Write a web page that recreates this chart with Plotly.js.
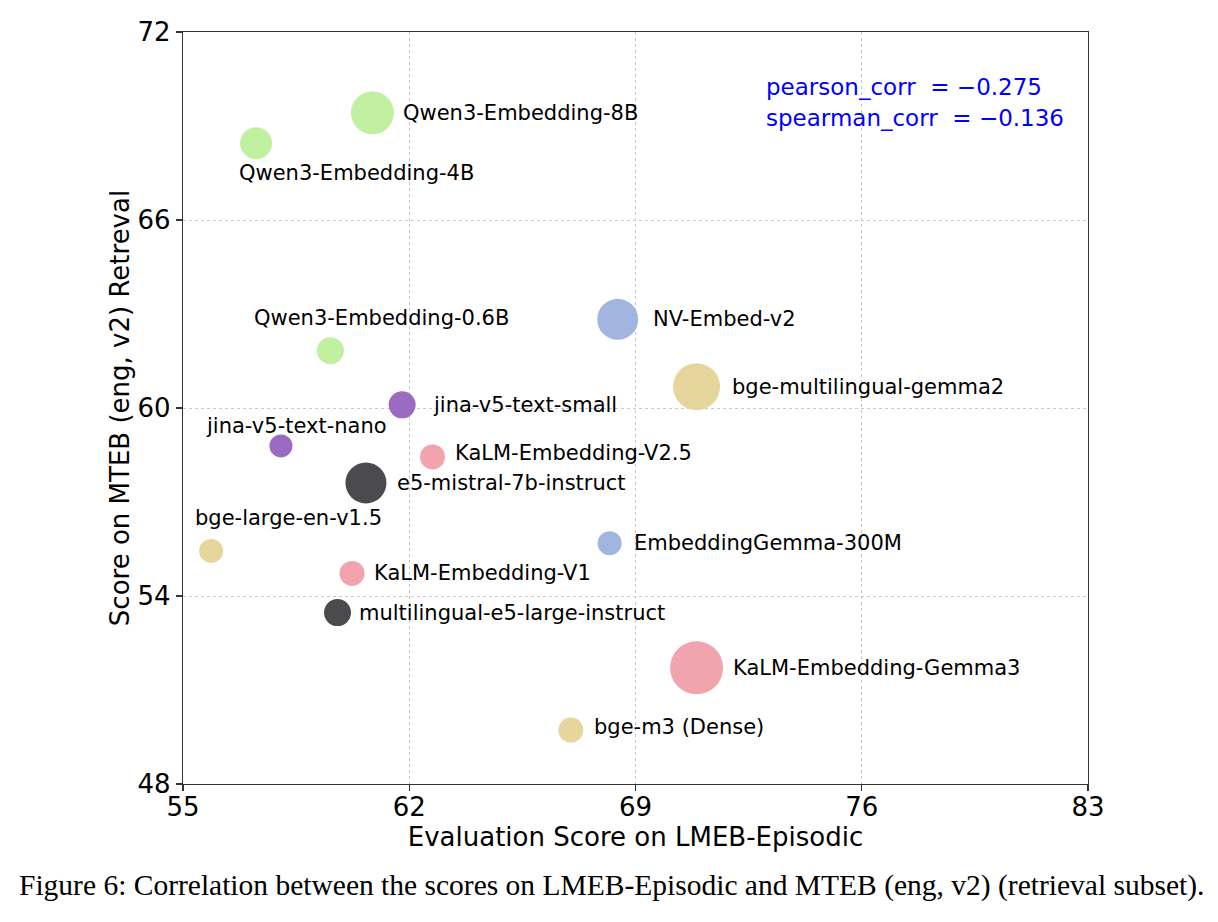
<!DOCTYPE html>
<html>
<head>
<meta charset="utf-8">
<script src="https://cdn.plot.ly/plotly-3.0.1.min.js"></script>
<style>html,body{margin:0;padding:0;background:#fff;}#chart{width:1218px;height:922px;}</style>
</head>
<body>
<div id="chart"></div>
<script>
// ---- data ----
const models = [
  "Qwen3-Embedding-8B", "Qwen3-Embedding-4B", "Qwen3-Embedding-0.6B",
  "NV-Embed-v2", "bge-multilingual-gemma2", "jina-v5-text-small",
  "jina-v5-text-nano", "KaLM-Embedding-V2.5", "e5-mistral-7b-instruct",
  "bge-large-en-v1.5", "EmbeddingGemma-300M", "KaLM-Embedding-V1",
  "multilingual-e5-large-instruct", "KaLM-Embedding-Gemma3", "bge-m3 (Dense)"
];
const lmebEpisodic = [60.86, 57.26, 59.56, 68.45, 70.89, 61.78, 58.03, 62.72, 60.66, 55.87, 68.20, 60.23, 59.78, 70.89, 67.00];
const mtebRetrieval = [69.42, 68.45, 61.83, 62.83, 60.68, 60.10, 58.79, 58.44, 57.61, 55.44, 55.68, 54.72, 53.47, 51.71, 49.72];
const families = ["qwen", "qwen", "qwen", "nv", "bge", "jina", "jina", "kalm", "e5", "bge", "gemma", "kalm", "e5", "kalm", "bge"];
const xTicks = [55, 62, 69, 76, 83];
const yTicks = [48, 54, 60, 66, 72];
const pearsonCorr = -0.275;
const spearmanCorr = -0.136;

// ---- style / placement ----
const familyColor = {
  qwen: "#c1f0a1", nv: "#a1b5e0", gemma: "#a1b5e0", bge: "#e6d69c",
  jina: "#9a6bc0", kalm: "#f2a4ae", e5: "#4b4b4d"
};
const markerDiameter = [43, 32, 27, 41, 47, 27, 23, 25, 41, 24, 24, 25, 27, 53, 25];
// label offsets in pixels (dx right, dy down) relative to marker centre; left-anchored
const labelOffset = [
  [29, 0], [-19, 30], [-78, -33], [33, 0], [33, 0], [29, 0],
  [-77, -20], [20, -4], [29, 0], [-18, -33], [22, 0], [20, 0],
  [19, 0], [34, 0], [21, -3]
];

const trace = {
  type: "scatter",
  mode: "markers",
  x: lmebEpisodic,
  y: mtebRetrieval,
  text: models,
  hoverinfo: "text",
  marker: {
    size: markerDiameter,
    sizemode: "diameter",
    color: families.map(f => familyColor[f]),
    line: {width: 0},
    opacity: 1
  },
  showlegend: false
};

const annotations = models.map((m, i) => ({
  x: lmebEpisodic[i], y: mtebRetrieval[i], xref: "x", yref: "y",
  text: m, showarrow: false, xanchor: "left", yanchor: "middle",
  xshift: labelOffset[i][0], yshift: -labelOffset[i][1],
  font: {family: "DejaVu Sans", size: 21, color: "#000"}
}));

const fmt = v => (v < 0 ? "\u2212" : "") + Math.abs(v).toFixed(3);
annotations.push({
  xref: "paper", yref: "paper", x: 0.642, y: 0.927, xanchor: "left", yanchor: "middle",
  text: "pearson_corr  = " + fmt(pearsonCorr), showarrow: false,
  font: {family: "DejaVu Sans", size: 23, color: "#0000ff"}
});
annotations.push({
  xref: "paper", yref: "paper", x: 0.642, y: 0.886, xanchor: "left", yanchor: "middle",
  text: "spearman_corr  = " + fmt(spearmanCorr), showarrow: false,
  font: {family: "DejaVu Sans", size: 23, color: "#0000ff"}
});
annotations.push({
  xref: "paper", yref: "paper", x: 0.473, y: -0.135, xanchor: "center", yanchor: "middle",
  text: "Figure 6: Correlation between the scores on LMEB-Episodic and MTEB (eng, v2) (retrieval subset).",
  showarrow: false,
  font: {family: "Liberation Serif", size: 29.5, color: "#000"}
});

const axisCommon = {
  showline: true, mirror: true, linecolor: "#333", linewidth: 1.2,
  ticks: "outside", ticklen: 6, tickwidth: 1.2, tickcolor: "#333",
  showgrid: true, gridcolor: "#c8c8c8", gridwidth: 1, griddash: "dot",
  zeroline: false,
  tickfont: {family: "DejaVu Sans", size: 26, color: "#000"}
};

const layout = {
  width: 1218, height: 922,
  margin: {l: 183, r: 130, t: 32, b: 138},
  paper_bgcolor: "#fff", plot_bgcolor: "#fff",
  xaxis: Object.assign({}, axisCommon, {
    range: [55, 83], tickvals: xTicks, ticktext: xTicks.map(String),
    ticklabelstandoff: -6,
    title: {text: "Evaluation Score on LMEB-Episodic", standoff: 2,
            font: {family: "DejaVu Sans", size: 26, color: "#000"}}
  }),
  yaxis: Object.assign({}, axisCommon, {
    range: [48, 72], tickvals: yTicks, ticktext: yTicks.map(String),
    title: {text: "Score on MTEB (eng, v2) Retreval", standoff: 0,
            font: {family: "DejaVu Sans", size: 26, color: "#000"}}
  }),
  annotations: annotations,
  showlegend: false
};

Plotly.newPlot("chart", [trace], layout, {displayModeBar: false, staticPlot: true});
</script>
</body>
</html>
